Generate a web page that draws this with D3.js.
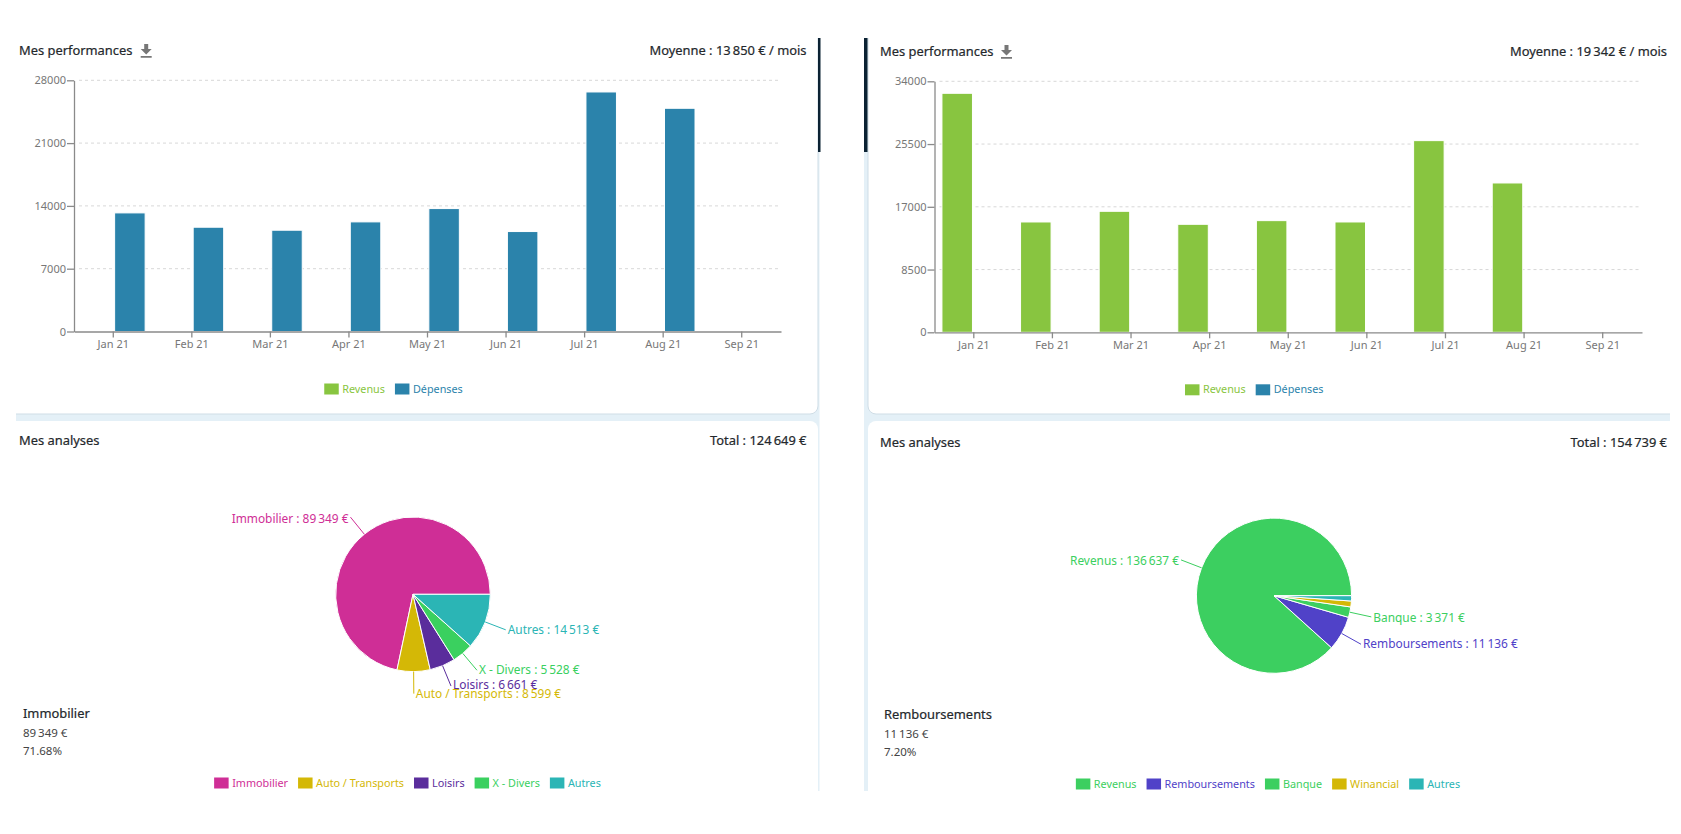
<!DOCTYPE html>
<html>
  <head>
    <meta charset="utf-8">
    <title>Mes performances / Mes analyses</title>
    <style>
      body { margin: 0; background: #fff; }
      svg { display: block; font-family: "Noto Sans", sans-serif; }
      .title { font-size: 12.9px; font-weight: 400; fill: #24282c; stroke: #24282c; stroke-width: 0.2; }
      .info { font-size: 11.5px; fill: #444; }
      .axis { font-family: "Noto Sans", sans-serif; }
      .axis text { font-size: 11px; fill: #777; }
      .axis path, .axis line { stroke: #8a8a8a; stroke-width: 1.3; fill: none; }
      .grid { stroke: #d8d8d8; stroke-dasharray: 3,3; }
      .legend text { font-size: 10.8px; }
      .slice-label { font-size: 11.9px; }
    </style>
  </head>
  <body>
    <svg id="chart" width="1681" height="834"></svg>

    <script src="https://d3js.org/d3.v7.min.js"></script>
    <script>
      // Data
      const months = ["Jan 21", "Feb 21", "Mar 21", "Apr 21", "May 21", "Jun 21", "Jul 21", "Aug 21", "Sep 21"];
      const barSeries = ["Revenus", "Dépenses"];

      const leftRevenus = [0, 0, 0, 0, 0, 0, 0, 0, 0];
      const leftDepenses = [13220, 11623, 11289, 12218, 13703, 11141, 26700, 24881, 0];
      const leftTicks = [0, 7000, 14000, 21000, 28000];

      const rightRevenus = [32375, 14945, 16390, 14629, 15126, 14945, 25963, 20228, 0];
      const rightDepenses = [0, 0, 0, 0, 0, 0, 0, 0, 0];
      const rightTicks = [0, 8500, 17000, 25500, 34000];

      const leftPieNames = ["Immobilier", "Auto / Transports", "Loisirs", "X - Divers", "Autres"];
      const leftPieValues = [89349, 8599, 6661, 5528, 14513];
      const rightPieNames = ["Revenus", "Remboursements", "Banque", "Winancial", "Autres"];
      const rightPieValues = [136637, 11136, 3371, 1900, 1695];

      // Colours and label placement
      const barColors = ["#88c540", "#2b83ab"];
      const leftPieColors = ["#cf2e96", "#d4b806", "#5a2d9c", "#3ad05f", "#2bb5b5"];
      const rightPieColors = ["#3ccf60", "#5042c8", "#3ccf60", "#d4b806", "#2bb5b5"];
      const leftLabelShift = [2, 0, -1, 0, 0];
      const rightLabelShift = [1, 0, 1, null, null];

      const svg = d3.select("#chart");
      const num = d3.formatLocale({ decimal: ".", thousands: "\u202f", grouping: [3], currency: ["", " €"] }).format(",d");
      const euro = v => num(v) + " €";

      // Card backgrounds
      const band = "#e4f0f7";
      svg.append("rect").attr("x", 16).attr("y", 38).attr("width", 803.5).attr("height", 753).attr("fill", band);
      svg.append("rect").attr("x", 864).attr("y", 38).attr("width", 806).attr("height", 753).attr("fill", band);
      [[4, 814], [868, 812]].forEach(([x, w]) => {
        svg.append("rect").attr("x", x).attr("y", 0).attr("width", w).attr("height", 414).attr("rx", 8)
          .attr("fill", "#fff").attr("stroke", "#cfdde6");
        svg.append("rect").attr("x", x).attr("y", 421).attr("width", w).attr("height", 400).attr("rx", 8)
          .attr("fill", "#fff");
      });
      // White around the cropped cards
      svg.append("rect").attr("x", 0).attr("y", 0).attr("width", 16).attr("height", 834).attr("fill", "#fff");
      svg.append("rect").attr("x", 1670).attr("y", 0).attr("width", 11).attr("height", 834).attr("fill", "#fff");
      svg.append("rect").attr("x", 0).attr("y", 791).attr("width", 1681).attr("height", 43).attr("fill", "#fff");
      svg.append("rect").attr("x", 0).attr("y", 0).attr("width", 1681).attr("height", 38).attr("fill", "#fff");
      svg.append("rect").attr("x", 818).attr("y", 38).attr("width", 2.5).attr("height", 114).attr("fill", "#0b2233");
      svg.append("rect").attr("x", 864).attr("y", 38).attr("width", 3.5).attr("height", 114).attr("fill", "#0b2233");

      function legend(names, colors, centerX, y) {
        const g = svg.append("g").attr("class", "legend");
        let x = 0;
        names.forEach((name, i) => {
          g.append("rect").attr("x", x).attr("y", y - 5.5).attr("width", 14.5).attr("height", 11).attr("fill", colors[i]);
          const t = g.append("text").attr("x", x + 18).attr("y", y).attr("dy", "0.34em").attr("fill", colors[i]).text(name);
          x += 18 + t.node().getComputedTextLength() + 10;
        });
        g.attr("transform", `translate(${centerX - (x - 10) / 2},0)`);
      }

      function header(title, right, x, rightX, y) {
        svg.append("text").attr("class", "title").attr("x", x).attr("y", y).attr("dy", "0.34em").text(title);
        svg.append("text").attr("class", "title").attr("x", rightX).attr("y", y).attr("dy", "0.34em")
          .attr("text-anchor", "end").text(right);
      }

      function downloadIcon(x, y) {
        svg.append("path").attr("transform", `translate(${x},${y})`).attr("fill", "#777")
          .attr("d", "M3.5 0h4v5h3.5l-5.5 5.5L0 5h3.5zM0 12h11v1.8H0z");
      }

      function barChart(cfg) {
        const x = d3.scaleBand().domain(months).range([cfg.x0, cfg.x1]);
        const x1 = d3.scaleBand().domain(barSeries).range([0, x.bandwidth()]).paddingInner(0.081).paddingOuter(0.224);
        const y = d3.scaleLinear().domain([0, d3.max(cfg.ticks)]).range([cfg.y0, cfg.y1]);

        svg.append("g").selectAll("line").data(cfg.ticks.filter(d => d > 0)).join("line")
          .attr("class", "grid")
          .attr("x1", cfg.x0 + 5).attr("x2", cfg.x1 - 1)
          .attr("y1", d => y(d)).attr("y2", d => y(d));

        [cfg.revenus, cfg.depenses].forEach((values, s) => {
          svg.append("g").selectAll("rect").data(values).join("rect")
            .attr("x", (d, i) => x(months[i]) + x1(barSeries[s]))
            .attr("y", d => y(d))
            .attr("width", x1.bandwidth())
            .attr("height", d => y(0) - y(d))
            .attr("fill", barColors[s])
            .attr("stroke", "#fff");
        });

        svg.append("g").attr("class", "axis").attr("transform", `translate(${cfg.x0},0)`)
          .call(d3.axisLeft(y).tickValues(cfg.ticks).tickFormat(d3.format("d")).tickSize(7).tickPadding(1).tickSizeOuter(0));
        svg.append("g").attr("class", "axis").attr("transform", `translate(0,${cfg.y0})`)
          .call(d3.axisBottom(x).tickSize(6).tickPadding(3).tickSizeOuter(0));

        legend(barSeries, barColors, (cfg.x0 + cfg.x1) / 2 - 34, cfg.y0 + 57.5);
      }

      function pieChart(cfg) {
        const pie = d3.pie().sort(null).startAngle(Math.PI / 2).endAngle(Math.PI / 2 - 2 * Math.PI);
        const arcs = pie(cfg.values);
        const arc = d3.arc().innerRadius(0).outerRadius(cfg.r);
        const g = svg.append("g").attr("transform", `translate(${cfg.cx},${cfg.cy})`);

        g.selectAll("path.slice").data(arcs).join("path")
          .attr("class", "slice")
          .attr("d", arc)
          .attr("fill", (d, i) => cfg.colors[i])
          .attr("stroke", "#fff");

        const point = (d, r) => {
          const a = (d.startAngle + d.endAngle) / 2;
          return [r * Math.sin(a), -r * Math.cos(a)];
        };
        arcs.forEach((d, i) => {
          if (cfg.shift[i] === null) return;
          const [ax, ay] = point(d, cfg.r);
          const [bx, by] = point(d, cfg.r + 22);
          g.append("line").attr("x1", ax).attr("y1", ay).attr("x2", bx).attr("y2", by)
            .attr("stroke", cfg.colors[i]);
          g.append("text").attr("class", "slice-label")
            .attr("x", bx + (bx < 0 ? -2 : 2))
            .attr("y", by + cfg.shift[i])
            .attr("dy", "0.34em")
            .attr("text-anchor", bx < 0 ? "end" : "start")
            .attr("fill", cfg.colors[i])
            .text(`${cfg.names[i]} : ${euro(d.data)}`);
        });

        // Detail of the selected slice, bottom left
        const k = cfg.names.indexOf(cfg.selected);
        const share = cfg.values[k] / d3.sum(cfg.values) * 100;
        svg.append("text").attr("class", "title").attr("x", cfg.infoX).attr("y", cfg.infoY).attr("dy", "0.34em").text(cfg.selected);
        svg.append("text").attr("class", "info").attr("x", cfg.infoX).attr("y", cfg.infoY + 19).attr("dy", "0.34em").text(euro(cfg.values[k]));
        svg.append("text").attr("class", "info").attr("x", cfg.infoX).attr("y", cfg.infoY + 37).attr("dy", "0.34em").text(share.toFixed(2) + "%");

        legend(cfg.names, cfg.colors, cfg.legendX, cfg.infoY + 69);
      }

      header("Mes performances", "Moyenne : 13\u202f850 € / mois", 19, 806.5, 50.7);
      header("Mes performances", "Moyenne : 19\u202f342 € / mois", 880, 1667, 51.7);
      header("Mes analyses", "Total : 124\u202f649 €", 19, 806.5, 441);
      header("Mes analyses", "Total : 154\u202f739 €", 880, 1667, 442.3);
      downloadIcon(140.7, 44);
      downloadIcon(1001, 45);

      barChart({ x0: 74, x1: 781, y0: 331.5, y1: 80.3, ticks: leftTicks, revenus: leftRevenus, depenses: leftDepenses });
      barChart({ x0: 934.5, x1: 1642, y0: 332.3, y1: 81.3, ticks: rightTicks, revenus: rightRevenus, depenses: rightDepenses });

      pieChart({ cx: 413, cy: 594.3, r: 77.3, names: leftPieNames, values: leftPieValues, colors: leftPieColors,
        shift: leftLabelShift, selected: "Immobilier", infoX: 23, infoY: 714, legendX: 407.5 });
      pieChart({ cx: 1274, cy: 595.7, r: 77.6, names: rightPieNames, values: rightPieValues, colors: rightPieColors,
        shift: rightLabelShift, selected: "Remboursements", infoX: 884, infoY: 715, legendX: 1268 });
    </script>
  </body>
</html>
